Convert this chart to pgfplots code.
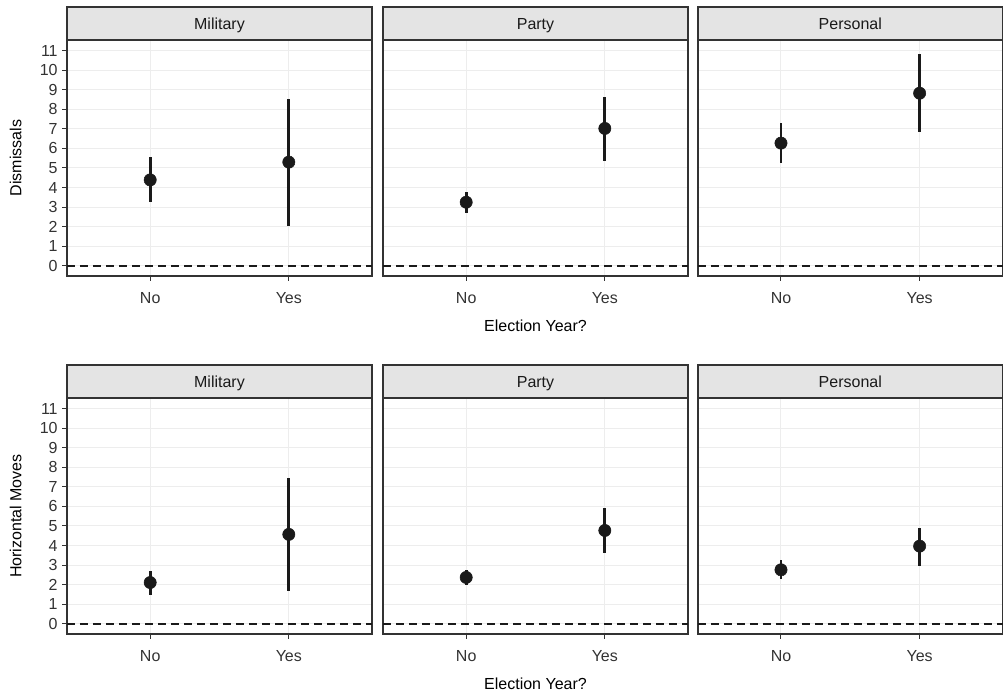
\documentclass[border=0pt]{standalone}
\usepackage{fontspec}
\setmainfont{Liberation Sans}
\usepackage{pgfplots}
\usepackage{pgfplotstable}
\pgfplotsset{compat=1.18}
\definecolor{stripc}{HTML}{E4E4E4}
\definecolor{framec}{HTML}{333333}
\definecolor{ticktext}{HTML}{333333}
\definecolor{gridc}{HTML}{EDEDED}
\definecolor{ptc}{HTML}{1A1A1A}

\pgfplotstableread{
x y lo hi
1 4.39 3.25 5.57
2 5.30 2.01 8.52
}\DisMil
\pgfplotstableread{
x y lo hi
1 3.25 2.72 3.77
2 7.02 5.38 8.64
}\DisPar
\pgfplotstableread{
x y lo hi
1 6.27 5.23 7.31
2 8.82 6.83 10.82
}\DisPer
\pgfplotstableread{
x y lo hi
1 2.11 1.48 2.69
2 4.57 1.69 7.43
}\HorMil
\pgfplotstableread{
x y lo hi
1 2.37 1.96 2.74
2 4.77 3.60 5.93
}\HorPar
\pgfplotstableread{
x y lo hi
1 2.76 2.27 3.25
2 3.97 2.98 4.92
}\HorPer

\pgfplotsset{
  facet/.style={
    scale only axis, width=228.75pt, height=177pt,
    xmin=0.4, xmax=2.6, ymin=-0.52, ymax=11.54,
    xtick={1,2}, xticklabels={No,Yes},
    ytick={0,1,...,11},
    grid=major, major grid style={gridc, line width=0.75pt},
    axis line style={framec, line width=1.1pt},
    tick style={framec, line width=0.75pt},
    tick align=outside, major tick length=3.5pt,
    xtick pos=bottom, ytick pos=left,
    ticklabel style={font=\fontsize{12}{14}\selectfont, text=ticktext},
    xticklabel style={yshift=-5pt},
    /pgf/number format/assume math mode=true,
    every axis x label/.style={at={(axis description cs:0.5,-0.2119)}, anchor=center, font=\fontsize{12}{14}\selectfont, text=black},
    every axis y label/.style={at={(axis description cs:-0.168,0.5)}, rotate=90, anchor=center, font=\fontsize{12}{14}\selectfont, text=black},
    clip=false,
    anchor=north west,
  },
  inner/.style={yticklabels={}, y tick style={draw=none}},
}

\newcommand{\panel}[2]{%
  \addplot[ptc, dash pattern=on 6pt off 3.75pt, line width=1.1pt] coordinates {(0.4,0) (2.6,0)};
  \addplot[ptc, only marks, mark=*, mark size=4.6pt,
    error bars/.cd, y dir=both, y explicit, error mark=none,
    error bar style={ptc, line width=2.2pt}]
    table[x=x, y=y, y error plus expr=\thisrow{hi}-\thisrow{y}, y error minus expr=\thisrow{y}-\thisrow{lo}] {#1};
  \draw[framec, line width=1.1pt, fill=stripc] (rel axis cs:0,1) rectangle (rel axis cs:1,1.1398);
  \node[font=\fontsize{12}{14}\selectfont, text=ptc, anchor=base, inner sep=0pt] at (rel axis cs:0.5,1.0453) {#2};
}

\begin{document}
\begin{tikzpicture}
% top row
\begin{axis}[facet, at={(50.25pt,492pt)}, ylabel={Dismissals}]
\panel{\DisMil}{Military}
\end{axis}
\begin{axis}[facet, inner, at={(287.25pt,492pt)}, xlabel={Election Year?}]
\panel{\DisPar}{Party}
\end{axis}
\begin{axis}[facet, inner, at={(523.35pt,492pt)}]
\panel{\DisPer}{Personal}
\end{axis}
% bottom row
\begin{axis}[facet, at={(50.25pt,223.5pt)}, ylabel={Horizontal Moves}]
\panel{\HorMil}{Military}
\end{axis}
\begin{axis}[facet, inner, at={(287.25pt,223.5pt)}, xlabel={Election Year?}]
\panel{\HorPar}{Party}
\end{axis}
\begin{axis}[facet, inner, at={(523.35pt,223.5pt)}]
\panel{\HorPer}{Personal}
\end{axis}
\pgfresetboundingbox
\useasboundingbox (0,0) rectangle (752.25pt,522pt);
\end{tikzpicture}
\end{document}
